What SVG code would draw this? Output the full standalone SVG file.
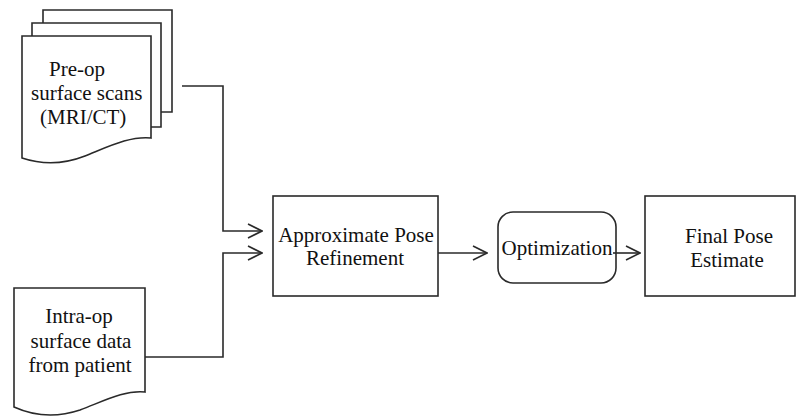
<svg xmlns="http://www.w3.org/2000/svg" width="798" height="417" viewBox="0 0 798 417">
  <defs>
    <marker id="chev" viewBox="0 0 16 16" refX="15" refY="8" markerWidth="16" markerHeight="16" markerUnits="userSpaceOnUse" orient="auto">
      <path d="M1,1 L15,8 L1,15" fill="none" stroke="#2a2a2a" stroke-width="1.6"/>
    </marker>
  </defs>
  <style>
    .shape { fill: #ffffff; stroke: #2a2a2a; stroke-width: 1.6; }
    .edge { fill: none; stroke: #2a2a2a; stroke-width: 1.6; }
    .conn { fill: none; stroke: #2a2a2a; stroke-width: 1.6; marker-end: url(#chev); }
    text { font-family: "Liberation Serif", "Times New Roman", serif; font-size: 21px; fill: #111; }
    .c { text-anchor: middle; }
  </style>
  <rect width="798" height="417" fill="#ffffff"/>

  <!-- stacked documents: pre-operative scans -->
  <g id="preop">
    <rect x="43" y="10" width="129" height="103" fill="#ffffff"/>
    <path class="edge" d="M43,23 V10 H172 V112 H161"/>
    <rect x="32" y="23" width="129" height="104" fill="#ffffff"/>
    <path class="edge" d="M32,36 V23 H161 V127 H151"/>
    <path class="shape" d="M22,36 H151 V138 C130,136 110,146 85,156 C62,165 40,164 22,158 Z"/>
    <text x="49" y="76">Pre-op</text>
    <text x="31" y="100">surface scans</text>
    <text x="40" y="124">(MRI/CT)</text>
  </g>

  <!-- single document: intra-operative data -->
  <g id="intraop">
    <path class="shape" d="M14,288 H145 V392 C124,390 104,401 80,410 C56,418 34,416 14,407 Z"/>
    <text class="c" x="79" y="323">Intra-op</text>
    <text class="c" x="81" y="348">surface data</text>
    <text class="c" x="80" y="372">from patient</text>
  </g>

  <g id="approx">
    <rect class="shape" x="273" y="196" width="165" height="100"/>
    <text class="c" x="356" y="242">Approximate Pose</text>
    <text class="c" x="355" y="265">Refinement</text>
  </g>

  <g id="optim">
    <rect class="shape" x="498" y="212" width="118" height="71" rx="15" ry="15"/>
    <text class="c" x="557" y="255">Optimization</text>
  </g>

  <g id="final">
    <rect class="shape" x="645" y="196" width="150" height="100"/>
    <text class="c" x="729" y="243">Final Pose</text>
    <text class="c" x="727" y="267">Estimate</text>
  </g>

  <g id="connectors">
    <path class="conn" d="M182,86 H223 V231 H262"/>
    <path class="conn" d="M145,357 H223 V253 H262"/>
    <path class="conn" d="M438,253 H487"/>
    <path class="conn" d="M613,253 H640"/>
  </g>
</svg>
